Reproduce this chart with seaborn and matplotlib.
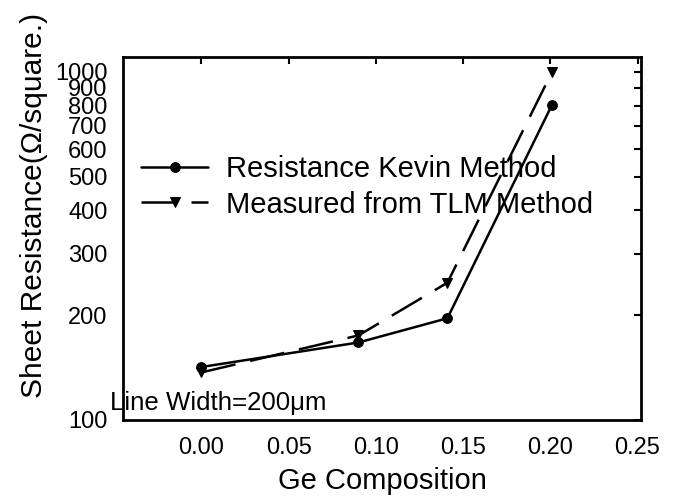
import matplotlib
matplotlib.use("Agg")
import matplotlib.pyplot as plt
import seaborn as sns
import pandas as pd
from matplotlib.ticker import FixedLocator, FixedFormatter, NullLocator

ge = [0.00, 0.09, 0.141, 0.201]
kevin = [142, 167, 196, 805]
tlm = [137, 175, 248, 1000]
series_names = ["Resistance Kevin Method", "Measured from TLM Method"]
ytick_vals = [100, 200, 300, 400, 500, 600, 700, 800, 900, 1000]
xtick_vals = [0.00, 0.05, 0.10, 0.15, 0.20, 0.25]

sns.set_theme(style="white")
plt.rcParams['font.family'] = ['Liberation Sans', 'DejaVu Sans']
plt.rcParams['text.color'] = 'black'
plt.rcParams['axes.labelcolor'] = 'black'

df = pd.DataFrame({
    "x": ge + ge,
    "y": kevin + tlm,
    "series": [series_names[0]] * len(ge) + [series_names[1]] * len(ge),
})

fig = plt.figure(figsize=(6.8, 5.01), dpi=100)
ax = fig.add_axes([123/680, 81/501, 518/680, 363/501])

sns.lineplot(data=df[df.series == series_names[0]], x="x", y="y", ax=ax,
             color="black", marker="o", markersize=7, linewidth=1.8,
             markeredgecolor="black", label=series_names[0])
sns.lineplot(data=df[df.series == series_names[1]], x="x", y="y", ax=ax,
             color="black", marker="v", markersize=7, linewidth=1.8,
             markeredgecolor="black", label=series_names[1], dashes=False)
ax.lines[1].set_dashes([14, 6])

ax.set_yscale("log")
ax.set_xlim(-0.045, 0.252)
ax.set_ylim(100, 1104)
ax.yaxis.set_major_locator(FixedLocator(ytick_vals))
ax.yaxis.set_major_formatter(FixedFormatter([str(v) for v in ytick_vals]))
ax.yaxis.set_minor_locator(NullLocator())
ax.set_xticks(xtick_vals)
ax.set_xticklabels([f"{v:.2f}" for v in xtick_vals])

ax.tick_params(axis="both", which="major", direction="in", length=5, width=1.5,
               top=True, right=True, labelsize=17, colors="black", pad=12)
ax.tick_params(axis="y", pad=11)
for s in ax.spines.values():
    s.set_visible(True)
    s.set_color("black")
    s.set_linewidth(2)

ax.set_xlabel("Ge Composition", fontsize=21, labelpad=6)
ax.set_ylabel("Sheet Resistance(\u03a9/square.)", fontsize=21.5)
ax.yaxis.set_label_coords(-0.145, 0.59)

ax.text(-0.025, 0.028, "Line Width=200\u03bcm", transform=ax.transAxes,
        fontsize=18.6, ha="left", va="baseline")

leg = ax.legend(loc="center left", bbox_to_anchor=(0.035, 0.642), frameon=False,
                fontsize=21, handlelength=2.3, handletextpad=0.6,
                labelspacing=0.25, borderpad=0, borderaxespad=0)

fig.savefig("out.png", dpi=100, facecolor="white")
